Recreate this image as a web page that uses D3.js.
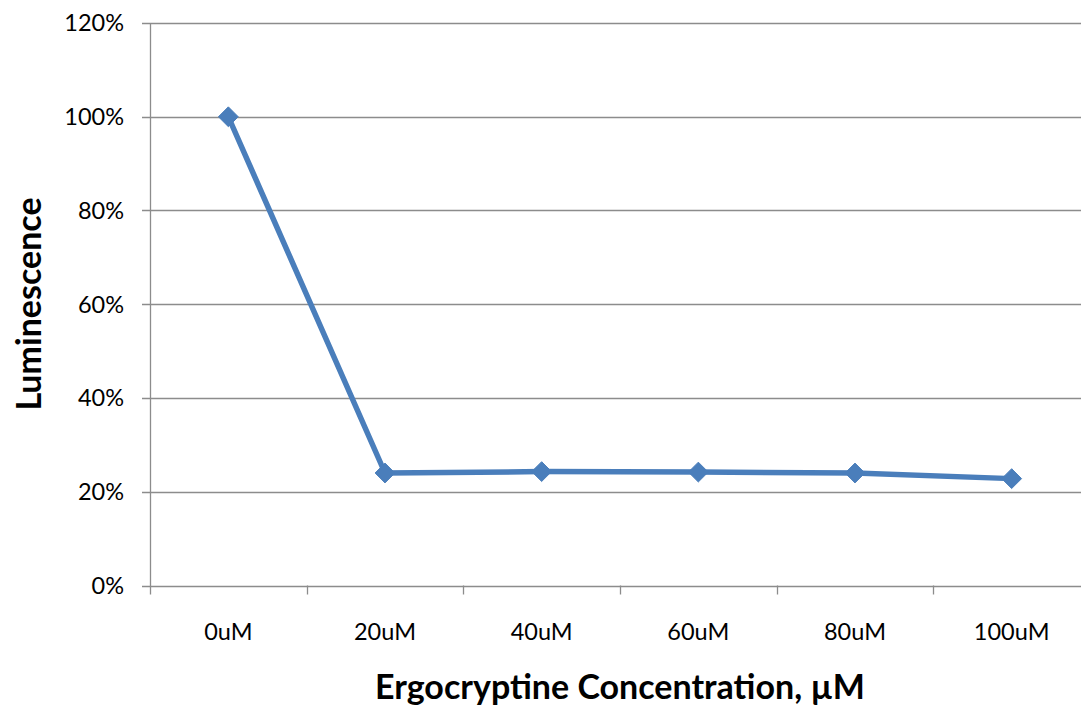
<!DOCTYPE html>
<html><head><meta charset="utf-8">
<script src="https://cdn.jsdelivr.net/npm/d3@7"></script>
<style>body{margin:0;background:#fff}svg{display:block}</style>
</head><body>
<svg id="c" width="1081" height="706"></svg>
<script>
const categories = ["0uM","20uM","40uM","60uM","80uM","100uM"];
const values = [1.00, 0.240, 0.243, 0.242, 0.240, 0.228];
const yTicks = [0,0.2,0.4,0.6,0.8,1.0,1.2];
const xTitle = "Ergocryptine Concentration, µM";
const yTitle = "Luminescence";

(function(){
const svg = d3.select("#c");
const pL = 150, pR = 1090, pT = 23, pB = 585.5;
const x = d3.scaleBand().domain(categories).range([pL, pR]);
const y = d3.scaleLinear().domain([0,1.2]).range([pB, pT]);
const font = "Lato, 'Open Sans', sans-serif";
const grid = "#8c8c8c";

svg.append("g").selectAll("line").data(yTicks).join("line")
  .attr("x1", pL-8).attr("x2", pR)
  .attr("y1", d=>Math.round(y(d))+0.5).attr("y2", d=>Math.round(y(d))+0.5)
  .attr("stroke", grid).attr("stroke-width", 1.3);

svg.append("line").attr("x1", pL+0.5).attr("x2", pL+0.5)
  .attr("y1", pT).attr("y2", pB+9).attr("stroke", grid).attr("stroke-width",1.3);

const bounds = categories.map(c=>x(c)).concat([x(categories[categories.length-1])+x.bandwidth()]);
svg.append("g").selectAll("line").data(bounds.slice(1)).join("line")
  .attr("x1", d=>Math.round(d)+0.5).attr("x2", d=>Math.round(d)+0.5)
  .attr("y1", pB).attr("y2", pB+9).attr("stroke", grid).attr("stroke-width",1.3);

svg.append("g").selectAll("text").data(yTicks).join("text")
  .attr("x", pL-26).attr("y", d=>y(d)).attr("dy","0.36em")
  .attr("text-anchor","end").attr("font-family",font).attr("font-size",23.5).attr("fill","#000")
  .text(d=>d3.format(".0%")(d));

svg.append("g").selectAll("text").data(categories).join("text")
  .attr("x", d=>x(d)+x.bandwidth()/2).attr("y", 640)
  .attr("text-anchor","middle").attr("font-family",font).attr("font-size",23.5).attr("fill","#000")
  .text(d=>d);

const cx = (d,i)=>x(categories[i])+x.bandwidth()/2;
svg.append("path").datum(values)
  .attr("d", d3.line().x(cx).y(d=>y(d)))
  .attr("fill","none").attr("stroke","#4a7ebb").attr("stroke-width",5.5).attr("stroke-linejoin","round");

svg.append("g").selectAll("path").data(values).join("path")
  .attr("transform",(d,i)=>`translate(${cx(d,i)},${y(d)})`)
  .attr("d", d3.symbol().type(d3.symbolDiamond2).size(250))
  .attr("fill","#4a7ebb").attr("stroke","#4a7ebb").attr("stroke-width",1);

svg.append("text").attr("x", 620).attr("y", 699).attr("text-anchor","middle")
  .attr("font-family",font).attr("font-weight","bold").attr("font-size",34).attr("fill","#000")
  .text(xTitle);
svg.append("text").attr("transform","translate(41,304) rotate(-90)").attr("text-anchor","middle")
  .attr("font-family",font).attr("font-weight","bold").attr("font-size",34).attr("fill","#000")
  .text(yTitle);
})();
</script>
</body></html>
